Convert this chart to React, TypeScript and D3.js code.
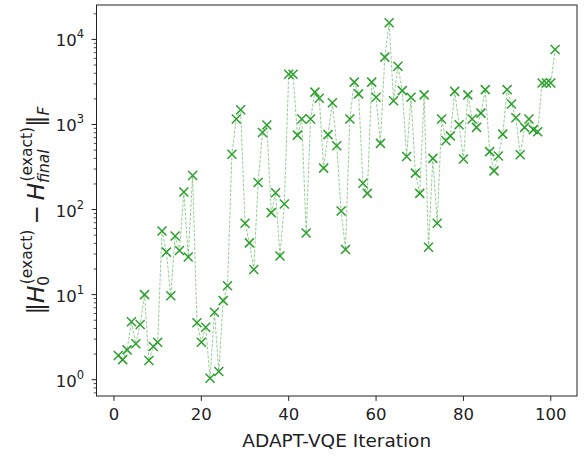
import React, { useEffect, useRef } from "react";
import * as d3 from "d3";

// Iterations 1..101
const iterations: number[] = Array.from({ length: 101 }, (_, i) => i + 1);

// ||H0 - Hfinal||_F per iteration
const normValues: number[] = [
  1.92, 1.72, 2.24, 4.8, 2.64, 4.46, 10.0, 1.68, 2.45, 2.76,
  56, 31.6, 9.7, 48.8, 33, 161, 27.7, 252, 4.67, 2.76,
  4.14, 1.04, 6.2, 1.25, 8.5, 12.7, 447, 1160, 1490, 69,
  40.6, 19.7, 208, 806, 985, 92, 158, 28.5, 116, 3890,
  3900, 750, 1160, 53, 1160, 2400, 2030, 307, 760, 1800,
  562, 96, 34, 1160, 3150, 2290, 204, 155, 3150, 2090,
  600, 6200, 15700, 1900, 4840, 2500, 420, 2090, 268, 155,
  2230, 36, 400, 69, 1160, 643, 735, 2450, 995, 392,
  2230, 1160, 925, 1360, 2570, 480, 285, 427, 770, 2570,
  1740, 1200, 440, 925, 1160, 870, 820, 3080, 3080, 3080,
  7600,
];

const xTickValues: number[] = [0, 20, 40, 60, 80, 100];
const yTickExponents: number[] = [0, 1, 2, 3, 4];
const xLabel = "ADAPT-VQE Iteration";

const W = 585;
const H = 462;
const M = { left: 96.5, right: 577, top: 5, bottom: 396 };
const GREEN = "#2ca02c";
const FONT = "'DejaVu Sans', sans-serif";

export default function App() {
  const ref = useRef<SVGSVGElement | null>(null);

  const xMin = d3.min(iterations)!;
  const xMax = d3.max(iterations)!;
  const xPad = (xMax - xMin) * 0.05;
  const x = d3.scaleLinear().domain([xMin - xPad, xMax + xPad]).range([M.left, M.right]);

  const lMin = Math.log10(d3.min(normValues)!);
  const lMax = Math.log10(d3.max(normValues)!);
  const lPad = (lMax - lMin) * 0.05;
  const y = d3
    .scaleLog()
    .domain([Math.pow(10, lMin - lPad), Math.pow(10, lMax + lPad)])
    .range([M.bottom, M.top]);

  const pts = iterations.map((it, i) => [x(it), y(normValues[i])] as [number, number]);
  const lineGen = d3.line();

  // minor ticks
  const [d0, d1] = y.domain();
  const minor: number[] = [];
  for (let e = Math.floor(Math.log10(d0)); e <= Math.ceil(Math.log10(d1)); e++) {
    for (let k = 2; k <= 9; k++) {
      const v = k * Math.pow(10, e);
      if (v >= d0 && v <= d1) minor.push(v);
    }
  }

  useEffect(() => {
    const svg = d3.select(ref.current);
    svg.selectAll("g.ylabel").remove();
    const MAIN = 23;
    const SCR = 15.5;
    const SUP = -12;
    const SUB = 5;
    const g = svg.append("g").attr("class", "ylabel");
    const inner = g.append("g");
    let cursor = 0;
    const add = (
      txt: string,
      size: number,
      italic: boolean,
      dy: number,
      advance = true,
      at?: number
    ) => {
      const t = inner
        .append("text")
        .attr("x", at ?? cursor)
        .attr("y", dy)
        .attr("font-family", FONT)
        .attr("font-size", size)
        .attr("font-style", italic ? "italic" : "normal")
        .attr("fill", "#222")
        .text(txt);
      const w = (t.node() as SVGTextElement).getComputedTextLength();
      if (advance) cursor = (at ?? cursor) + w;
      return w;
    };
    const script = (sub: string, subIt: boolean, sup: string) => {
      const start = cursor;
      const w1 = add(sub, SCR, subIt, SUB, false, start);
      const w2 = add(sup, SCR, false, SUP, false, start + 1.5);
      cursor = start + Math.max(w1, w2 + 1.5);
    };
    add("\u2016", MAIN, false, 0);
    add("H", MAIN, true, 0);
    script("0", false, "(exact)");
    cursor += 5;
    add("\u2212", MAIN, false, 0);
    cursor += 5;
    add("H", MAIN, true, 0);
    script("final", true, "(exact)");
    add("\u2016", MAIN, false, 0);
    add("F", SCR, true, SUB);
    const total = cursor;
    inner.attr("transform", `translate(${-total / 2},0)`);
    g.attr("transform", `translate(44,${(M.top + M.bottom) / 2 + 10}) rotate(-90)`);
  }, []);

  return (
    <svg ref={ref} width={W} height={H} style={{ display: "block", position: "absolute", left: 0, top: 0 }}>
      <rect x={0} y={0} width={W} height={H} fill="#fff" />
      <path
        d={lineGen(pts) ?? ""}
        fill="none"
        stroke={GREEN}
        strokeOpacity={0.5}
        strokeWidth={1}
        strokeDasharray="3,1.5"
      />
      {pts.map(([px, py], i) => (
        <path
          key={i}
          d={`M${px - 4.5},${py - 4.5}L${px + 4.5},${py + 4.5}M${px - 4.5},${py + 4.5}L${px + 4.5},${py - 4.5}`}
          stroke={GREEN}
          strokeWidth={1.5}
          fill="none"
        />
      ))}
      <rect
        x={M.left}
        y={M.top}
        width={M.right - M.left}
        height={M.bottom - M.top}
        fill="none"
        stroke="#222"
        strokeWidth={1}
      />
      {xTickValues.map((t) => (
        <g key={t}>
          <line x1={x(t)} x2={x(t)} y1={M.bottom} y2={M.bottom + 4.9} stroke="#222" strokeWidth={1} />
          <text
            x={x(t)}
            y={419.5}
            textAnchor="middle"
            fontFamily={FONT}
            fontSize={16.5}
            fill="#222"
          >
            {t}
          </text>
        </g>
      ))}
      {minor.map((v, i) => (
        <line key={i} x1={M.left - 2.8} x2={M.left} y1={y(v)} y2={y(v)} stroke="#222" strokeWidth={0.8} />
      ))}
      {yTickExponents.map((e) => {
        const yy = y(Math.pow(10, e));
        return (
          <g key={e}>
            <line x1={M.left - 4.9} x2={M.left} y1={yy} y2={yy} stroke="#222" strokeWidth={1} />
            <text x={84} y={yy + 7} textAnchor="end" fontFamily={FONT} fontSize={16.5} fill="#222">
              10
              <tspan fontSize={11.5} dy={-8}>
                {e}
              </tspan>
            </text>
          </g>
        );
      })}
      <text
        x={(M.left + M.right) / 2}
        y={447}
        textAnchor="middle"
        fontFamily={FONT}
        fontSize={18.5}
        fill="#222"
      >
        {xLabel}
      </text>
    </svg>
  );
}
